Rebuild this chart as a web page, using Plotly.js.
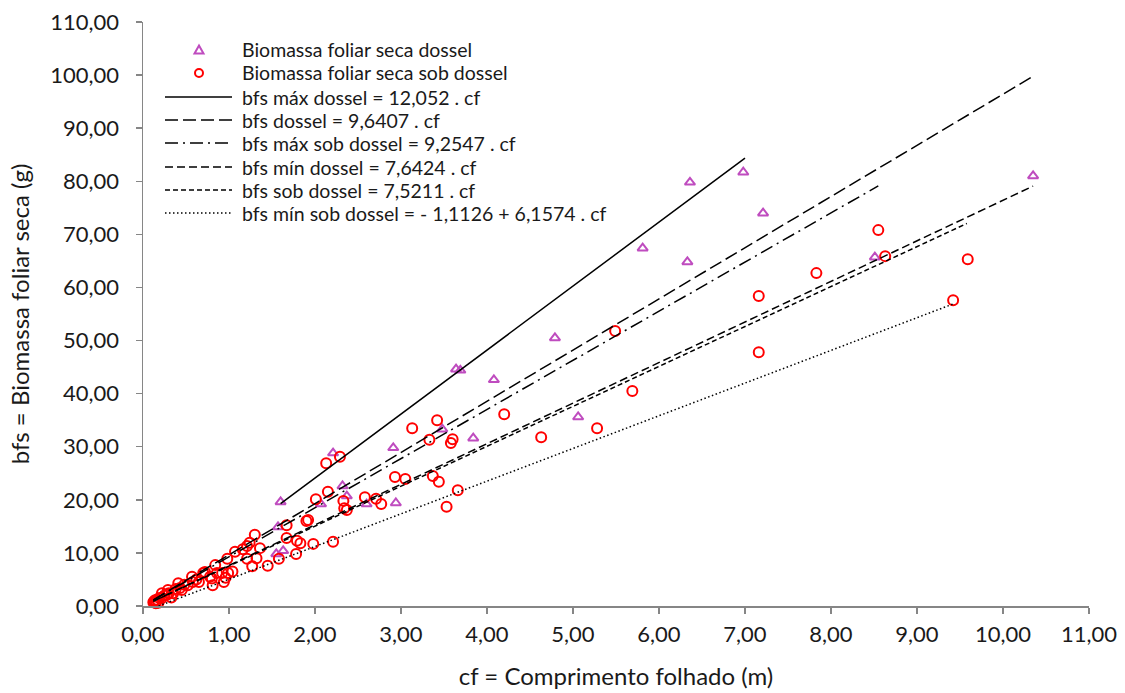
<!DOCTYPE html>
<html>
<head>
<meta charset="utf-8">
<script src="https://cdn.plot.ly/plotly-3.0.1.min.js"></script>
<style>html,body{margin:0;padding:0;background:#fff;}#chart{width:1125px;height:693px;}</style>
</head>
<body>
<div id="chart"></div>
<script>
// ---- data ----
const xDossel = [1.55,1.57,1.60,1.63,2.07,2.21,2.32,2.37,2.60,2.91,2.94,3.48,3.64,3.69,3.84,4.08,4.79,5.06,5.81,6.33,6.36,6.98,7.21,8.51,10.35];
const yDossel = [9.8,14.9,19.6,10.4,19.2,28.8,22.6,20.7,19.2,29.8,19.4,33.3,44.6,44.4,31.6,42.6,50.5,35.6,67.4,64.8,79.8,81.7,74.0,65.7,81.0];

const xSob = [0.12,0.13,0.14,0.15,0.16,0.18,0.19,0.22,0.22,0.25,0.28,0.29,0.30,0.33,0.35,0.38,0.41,0.43,0.45,0.48,0.52,0.57,0.58,0.62,0.65,0.70,0.72,0.78,0.80,0.81,0.84,0.86,0.92,0.94,0.96,0.98,0.99,1.04,1.07,1.16,1.21,1.21,1.24,1.27,1.30,1.32,1.36,1.45,1.58,1.67,1.67,1.78,1.79,1.83,1.90,1.92,1.98,2.01,2.13,2.15,2.21,2.29,2.33,2.34,2.37,2.58,2.71,2.77,2.93,3.05,3.13,3.33,3.37,3.42,3.44,3.53,3.58,3.60,3.66,4.20,4.63,5.28,5.49,5.69,7.16,7.16,7.83,8.55,8.63,9.42,9.59];
const ySob = [0.7,0.9,1.1,0.5,1.2,0.6,1.5,1.5,2.4,2.0,2.1,3.0,2.4,1.6,2.4,3.2,4.3,3.4,3.0,4.0,3.9,5.5,4.5,5.0,4.5,6.2,6.4,5.5,5.2,3.9,7.7,6.2,6.2,4.5,5.3,8.9,6.2,6.5,10.2,10.7,8.9,11.3,11.9,7.5,13.4,9.0,10.9,7.6,8.9,12.8,15.2,9.8,12.3,11.8,16.0,16.2,11.7,20.1,26.9,21.5,12.1,28.1,19.8,18.4,18.1,20.5,20.2,19.2,24.3,23.9,33.5,31.3,24.5,35.0,23.4,18.7,30.7,31.4,21.8,36.1,31.8,33.5,51.8,40.5,47.8,58.4,62.7,70.8,65.9,57.6,65.3];

const seriesNames = ["Biomassa foliar seca dossel", "Biomassa foliar seca sob dossel"];

const lineNames = [
  "bfs máx dossel = 12,052 . cf",
  "bfs dossel = 9,6407 . cf",
  "bfs máx sob dossel = 9,2547 . cf",
  "bfs mín dossel = 7,6424 . cf",
  "bfs sob dossel = 7,5211 . cf",
  "bfs mín sob dossel = - 1,1126 + 6,1574 . cf"
];
const lineIntercepts = [0, 0, 0, 0, 0, -1.1126];
const lineSlopes = [12.052, 9.6407, 9.2547, 7.6424, 7.5211, 6.1574];
const lineXStart = [1.60, 0.12, 0.12, 0.12, 0.12, 0.18];
const lineXEnd = [7.00, 10.35, 8.55, 10.35, 9.58, 9.42];

const xTickVals = [0,1,2,3,4,5,6,7,8,9,10,11];
const yTickVals = [0,10,20,30,40,50,60,70,80,90,100,110];

// ---- styles ----
const FONT = "Lato, 'Open Sans', sans-serif";
const TXT = "#1a1a1a";
const AXC = "#868686";
const purple = "#BF4CBF";
const red = "#FF0000";
const lineDashes = ["solid", "13px,5px", "13px,5px,2px,5px", "8px,4px", "5px,3px", "1.5px,2.5px"];

// plot area in pixels
const W = 1125, H = 693;
const M = {l: 143, r: 36, t: 22, b: 87};
const px2x = p => (p - M.l) / (W - M.l - M.r);
const px2y = p => (H - M.b - p) / (H - M.t - M.b);

const traces = [];
traces.push({
  type: "scatter", mode: "markers", name: seriesNames[0], x: xDossel, y: yDossel,
  marker: {symbol: "triangle-up-open", size: 9, color: purple, line: {width: 2, color: purple}},
  showlegend: false, cliponaxis: false
});
traces.push({
  type: "scatter", mode: "markers", name: seriesNames[1], x: xSob, y: ySob,
  marker: {symbol: "circle-open", size: 10, color: red, line: {width: 2, color: red}},
  showlegend: false, cliponaxis: false
});
lineNames.forEach((n, i) => {
  const xs = [lineXStart[i], lineXEnd[i]];
  traces.push({
    type: "scatter", mode: "lines", name: n, x: xs,
    y: xs.map(v => lineIntercepts[i] + lineSlopes[i] * v),
    line: {color: "#000", width: 1.5, dash: lineDashes[i]},
    showlegend: false
  });
});

// ---- custom legend ----
const rowY = [50, 73, 97, 120, 143, 167, 190, 213];
const textX = 240;
const sampleX0 = 165, sampleX1 = 232, markerX = 199;
const shapes = [];
const annotations = [];
const allNames = seriesNames.concat(lineNames);
allNames.forEach((n, i) => {
  annotations.push({
    xref: "paper", yref: "paper", x: px2x(textX), y: px2y(rowY[i]),
    xanchor: "left", yanchor: "middle", text: n, showarrow: false,
    font: {family: FONT, size: 19.5, color: TXT}
  });
});
// triangle sample
shapes.push({
  type: "path", xref: "paper", yref: "paper", xsizemode: "pixel", ysizemode: "pixel",
  xanchor: px2x(markerX), yanchor: px2y(rowY[0]),
  path: "M -4.5 -3.5 L 4.5 -3.5 L 0 4.5 Z",
  line: {color: purple, width: 2}
});
// circle sample
shapes.push({
  type: "circle", xref: "paper", yref: "paper", xsizemode: "pixel", ysizemode: "pixel",
  xanchor: px2x(markerX), yanchor: px2y(rowY[1]),
  x0: -4, x1: 4, y0: -4, y1: 4,
  line: {color: red, width: 2}
});
lineNames.forEach((n, i) => {
  const yy = px2y(rowY[i + 2]);
  shapes.push({
    type: "line", xref: "paper", yref: "paper",
    x0: px2x(sampleX0), x1: px2x(sampleX1), y0: yy, y1: yy,
    line: {color: "#000", width: 1.5, dash: lineDashes[i]}
  });
});

const axisCommon = {
  showgrid: false, zeroline: false, showline: true, linecolor: AXC, linewidth: 1.5,
  ticks: "outside", ticklen: 6, tickwidth: 1.5, tickcolor: AXC,
  tickfont: {family: FONT, size: 22, color: TXT}, tickformat: ".2f"
};

const layout = {
  width: W, height: H,
  margin: M,
  paper_bgcolor: "#fff", plot_bgcolor: "#fff",
  separators: ",.",
  showlegend: false,
  xaxis: Object.assign({}, axisCommon, {
    range: [0, 11], tickvals: xTickVals, ticklabelstandoff: 2,
    title: {text: "cf = Comprimento folhado (m)", font: {family: FONT, size: 24, color: TXT}, standoff: 22}
  }),
  yaxis: Object.assign({}, axisCommon, {
    range: [0, 110], tickvals: yTickVals, ticklabelstandoff: 12,
    title: {text: "bfs = Biomassa foliar seca (g)", font: {family: FONT, size: 24, color: TXT}, standoff: 14}
  }),
  shapes: shapes,
  annotations: annotations
};

Plotly.newPlot("chart", traces, layout, {staticPlot: true, displayModeBar: false});
</script>
</body>
</html>
